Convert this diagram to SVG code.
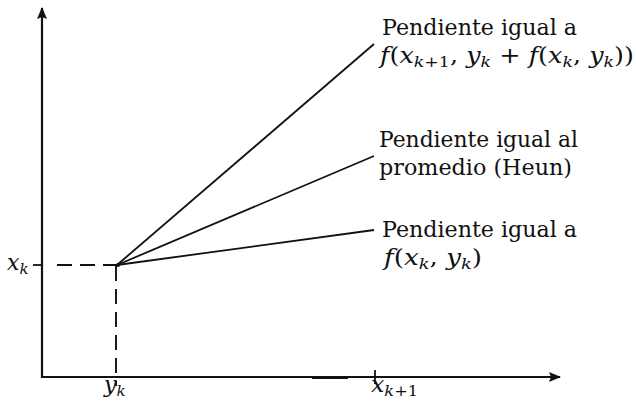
<svg xmlns="http://www.w3.org/2000/svg" width="636" height="401" viewBox="0 0 636 401">
<style>
.t{font-family:"DejaVu Serif","Liberation Serif",serif;font-size:22px;fill:#111}
.m{font-family:"DejaVu Serif","Liberation Serif",serif;font-size:22px;fill:#111}
.i{font-style:italic}
.s{font-size:15px}
.ax{stroke:#111;stroke-width:2.2;fill:none}
.ln{stroke:#111;stroke-width:1.8;fill:none}
.d{stroke:#111;stroke-width:1.9;fill:none;stroke-dasharray:15 8}
</style>
<defs>
<marker id="ah" viewBox="0 0 12 10" refX="11" refY="5" markerWidth="12" markerHeight="10" markerUnits="userSpaceOnUse" orient="auto">
<path d="M0,0 L12,5 L0,10 L2,5 Z" fill="#111"/>
</marker>
</defs>
<g id="axes">
<line class="ax" x1="42" y1="378" x2="42" y2="8" marker-end="url(#ah)"/>
<line class="ax" x1="41" y1="377" x2="560" y2="377" marker-end="url(#ah)"/>
<line x1="312" y1="377.5" x2="348" y2="377.5" stroke="#111" stroke-width="3"/>
<line class="ln" x1="375" y1="370" x2="375" y2="384"/>
<line class="ln" x1="33" y1="265" x2="42" y2="265"/>
</g>
<g id="connectors">
<line class="d" x1="57" y1="265" x2="117" y2="265"/>
<line class="d" x1="116" y1="266" x2="116" y2="386"/>
<line class="ln" x1="117" y1="265" x2="374" y2="44"/>
<line class="ln" x1="117" y1="265" x2="374" y2="156"/>
<line class="ln" x1="117" y1="265" x2="374" y2="230"/>
<circle cx="118" cy="265" r="2" fill="#111"/>
</g>
<g id="label-xk">
<text class="m" x="7" y="270"><tspan class="i">x</tspan><tspan class="i s" dy="4">k</tspan></text>
</g>
<g id="label-yk">
<text class="m" x="104" y="392"><tspan class="i">y</tspan><tspan class="i s" dy="4">k</tspan></text>
</g>
<g id="label-xk1">
<text class="m" x="371" y="392" textLength="47" lengthAdjust="spacingAndGlyphs"><tspan class="i">x</tspan><tspan class="i s" dy="4">k</tspan><tspan class="s">+1</tspan></text>
</g>
<g id="top-label">
<text class="t" x="382" y="35" textLength="195" lengthAdjust="spacingAndGlyphs">Pendiente igual a</text>
<text class="m" x="380" y="63" textLength="254" lengthAdjust="spacingAndGlyphs"><tspan class="i">f</tspan>(<tspan class="i">x</tspan><tspan class="i s" dy="4">k</tspan><tspan class="s">+1</tspan><tspan dy="-4">, </tspan><tspan class="i">y</tspan><tspan class="i s" dy="4">k</tspan><tspan dy="-4"> + </tspan><tspan class="i">f</tspan>(<tspan class="i">x</tspan><tspan class="i s" dy="4">k</tspan><tspan dy="-4">, </tspan><tspan class="i">y</tspan><tspan class="i s" dy="4">k</tspan><tspan dy="-4">))</tspan></text>
</g>
<g id="mid-label">
<text class="t" x="379" y="147" textLength="199" lengthAdjust="spacingAndGlyphs">Pendiente igual al</text>
<text class="t" x="379" y="175" textLength="193" lengthAdjust="spacingAndGlyphs">promedio (Heun)</text>
</g>
<g id="bottom-label">
<text class="t" x="382" y="237" textLength="195" lengthAdjust="spacingAndGlyphs">Pendiente igual a</text>
<text class="m" x="384" y="265" textLength="98" lengthAdjust="spacingAndGlyphs"><tspan class="i">f</tspan>(<tspan class="i">x</tspan><tspan class="i s" dy="4">k</tspan><tspan dy="-4">, </tspan><tspan class="i">y</tspan><tspan class="i s" dy="4">k</tspan><tspan dy="-4">)</tspan></text>
</g>
</svg>
